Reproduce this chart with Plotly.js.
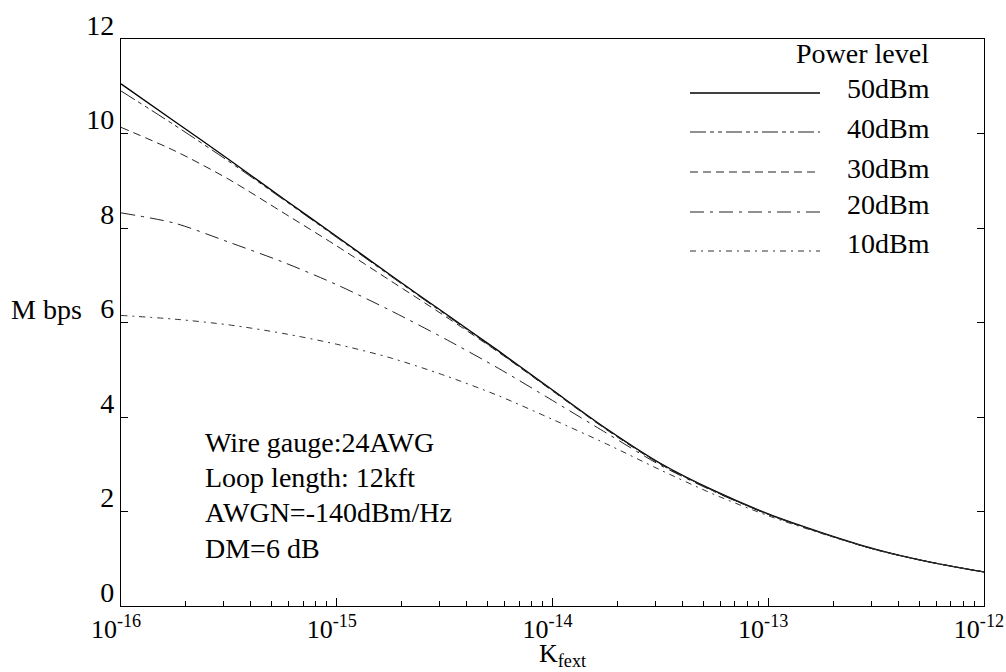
<!DOCTYPE html>
<html>
<head>
<meta charset="utf-8">
<script src="https://cdn.plot.ly/plotly-3.0.1.min.js"></script>
<style>html,body{margin:0;padding:0;background:#fff;}#chart{width:1006px;height:672px;}</style>
</head>
<body>
<div id="chart"></div>
<script>
// ---- data ----
const kfext = [1e-16, 1.78e-16, 3.16e-16, 5.62e-16, 1e-15, 1.78e-15, 3.16e-15, 5.62e-15,
               1e-14, 1.78e-14, 3.16e-14, 5.62e-14, 1e-13, 1.78e-13, 3.16e-13, 5.62e-13, 1e-12];
const p50dBm = [11.05, 10.25, 9.45, 8.63, 7.82, 7.0, 6.2, 5.4, 4.57, 3.75, 3.02, 2.44, 1.95, 1.55, 1.2, 0.93, 0.72];
const p40dBm = [10.9, 10.17, 9.41, 8.61, 7.8, 6.98, 6.18, 5.38, 4.56, 3.74, 3.01, 2.43, 1.94, 1.54, 1.19, 0.93, 0.72];
const p30dBm = [10.13, 9.63, 9.03, 8.33, 7.62, 6.88, 6.14, 5.37, 4.55, 3.73, 3.0, 2.43, 1.94, 1.54, 1.19, 0.93, 0.72];
const p20dBm = [8.32, 8.1, 7.7, 7.28, 6.8, 6.25, 5.66, 5.03, 4.35, 3.66, 2.98, 2.42, 1.94, 1.54, 1.19, 0.93, 0.72];
const p10dBm = [6.15, 6.07, 5.95, 5.77, 5.54, 5.25, 4.88, 4.45, 3.95, 3.43, 2.88, 2.36, 1.91, 1.53, 1.19, 0.93, 0.72];
const seriesNames = ['50dBm', '40dBm', '30dBm', '20dBm', '10dBm'];
const seriesValues = [p50dBm, p40dBm, p30dBm, p20dBm, p10dBm];
const xTickVals = [1e-16, 1e-15, 1e-14, 1e-13, 1e-12];
const xTickText = ['10<sup>-16</sup>', '10<sup>-15</sup>', '10<sup>-14</sup>', '10<sup>-13</sup>', '10<sup>-12</sup>'];
const yTickVals = [0, 2, 4, 6, 8, 10, 12];
const legendTitle = 'Power level';
const yLabel = 'M bps';
const xLabel = 'K<sub>fext</sub>';
const notes = ['Wire gauge:24AWG', 'Loop length: 12kft', 'AWGN=-140dBm/Hz', 'DM=6 dB'];

// ---- styles ----
const FONT = 'Liberation Serif, Times New Roman, serif';
const dashes = ['solid', '16px,4px,4px,4px,4px,4px', '8px,5px', '14px,6px,3px,6px', '6px,5px,2px,5px'];
const colors = ['#000000', '#222222', '#222222', '#222222', '#333333'];
const widths = [1.3, 1, 1, 1, 1];

const W = 1006, H = 672;
const M = {l: 121, r: 22, t: 39, b: 66};
const PW = W - M.l - M.r, PH = H - M.t - M.b;
const px = x => (x - M.l) / PW;      // pixel -> paper x
const py = y => (H - M.b - y) / PH;  // pixel -> paper y

const traces = seriesNames.map((n, i) => ({
  type: 'scatter', mode: 'lines', name: n,
  x: kfext, y: seriesValues[i],
  line: {color: colors[i], width: widths[i], dash: dashes[i], shape: 'spline', smoothing: 0.8},
  showlegend: false, hoverinfo: 'skip'
}));

const shapes = [];
const annotations = [];
// legend (drawn by hand to match long line samples)
const legLineY = [93, 132, 172, 212, 251];
const legTextY = [88, 128, 168, 204, 243];
seriesNames.forEach((n, i) => {
  shapes.push({type: 'line', xref: 'paper', yref: 'paper',
    x0: px(690), x1: px(820), y0: py(legLineY[i]), y1: py(legLineY[i]),
    line: {color: colors[i], width: widths[i], dash: dashes[i]}});
  annotations.push({xref: 'paper', yref: 'paper', x: px(845), y: py(legTextY[i]),
    xanchor: 'left', yanchor: 'middle', showarrow: false, text: n,
    font: {family: FONT, size: 28, color: '#000'}});
});
annotations.push({xref: 'paper', yref: 'paper', x: px(862), y: py(53),
  xanchor: 'center', yanchor: 'middle', showarrow: false, text: legendTitle,
  font: {family: FONT, size: 28, color: '#000'}});
// y label
annotations.push({xref: 'paper', yref: 'paper', x: px(84), y: py(309),
  xanchor: 'right', yanchor: 'middle', showarrow: false, text: yLabel,
  font: {family: FONT, size: 28, color: '#000'}});
// notes
const noteY = [442, 477, 512, 548];
notes.forEach((t, i) => annotations.push({xref: 'paper', yref: 'paper', x: px(203), y: py(noteY[i]),
  xanchor: 'left', yanchor: 'middle', showarrow: false, text: t,
  font: {family: FONT, size: 28, color: '#000'}}));
// x label
annotations.push({xref: 'paper', yref: 'paper', x: px(562), y: py(655),
  xanchor: 'center', yanchor: 'middle', showarrow: false, text: xLabel,
  font: {family: FONT, size: 26, color: '#000'}});

const layout = {
  width: W, height: H,
  margin: M,
  paper_bgcolor: '#fff', plot_bgcolor: '#fff',
  showlegend: false,
  font: {family: FONT, size: 28, color: '#000'},
  xaxis: {
    type: 'log', range: [-16.0002, -11.9998],
    tickvals: xTickVals, ticktext: xTickText,
    ticks: 'inside', ticklen: 8, tickcolor: '#000', tickwidth: 1,
    minor: {ticks: 'inside', ticklen: 5, tickcolor: '#000', dtick: 'D1', showgrid: false},
    showline: true, linecolor: '#000', linewidth: 1.2, mirror: true,
    showgrid: false, zeroline: false,
    ticklabeloverflow: 'allow',
    ticklabelshift: -5,
    tickfont: {family: FONT, size: 26, color: '#000'}
  },
  yaxis: {
    range: [0, 12], tickvals: yTickVals,
    ticks: 'inside', ticklen: 7, tickcolor: '#000', tickwidth: 1,
    showline: true, linecolor: '#000', linewidth: 1.2, mirror: 'ticks',
    showgrid: false, zeroline: false,
    ticklabelshift: -14,
    tickfont: {family: FONT, size: 28, color: '#000'}
  },
  shapes: shapes,
  annotations: annotations
};

Plotly.newPlot('chart', traces, layout, {displayModeBar: false, staticPlot: true});
</script>
</body>
</html>
